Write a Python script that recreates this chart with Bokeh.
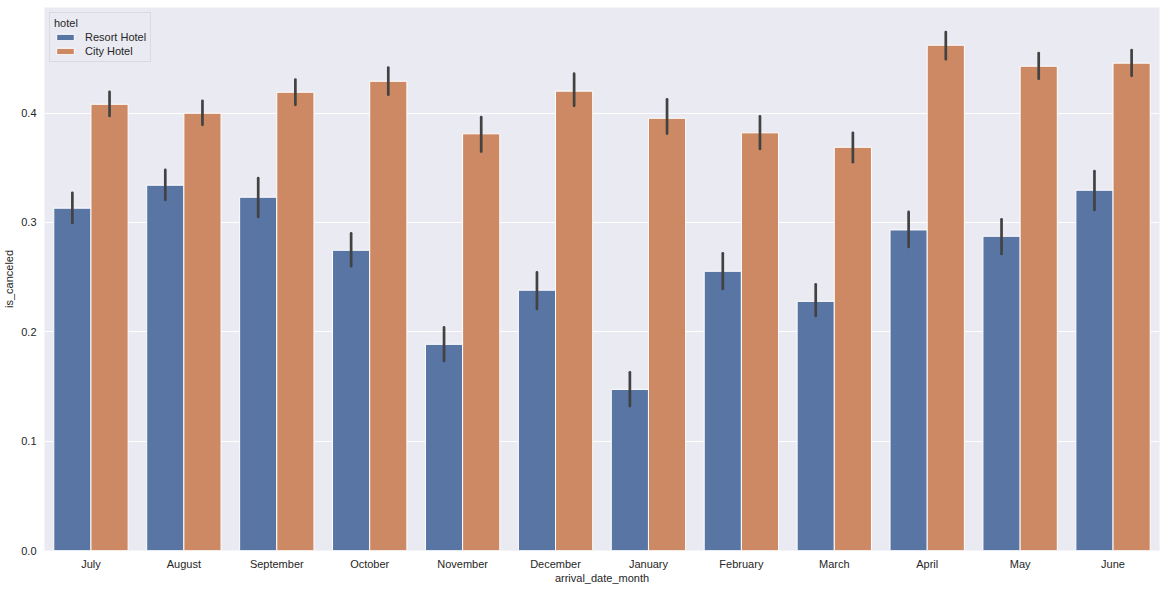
from bokeh.plotting import figure
from bokeh.models import ColumnDataSource, FactorRange, Range1d, FixedTicker, PrintfTickFormatter, Legend, LegendItem
from bokeh.transform import dodge
from bokeh.embed import file_html
from bokeh.resources import INLINE

months = ["July", "August", "September", "October", "November", "December",
          "January", "February", "March", "April", "May", "June"]
hotels = ["Resort Hotel", "City Hotel"]

resort_mean = [0.313, 0.334, 0.323, 0.2745, 0.1885, 0.238, 0.1473, 0.2553, 0.2278, 0.2931, 0.2873, 0.3294]
resort_lo   = [0.2995, 0.3206, 0.305, 0.260, 0.1733, 0.2209, 0.1321, 0.2392, 0.2145, 0.2776, 0.2712, 0.3114]
resort_hi   = [0.327, 0.348, 0.3404, 0.290, 0.204, 0.2543, 0.1629, 0.2717, 0.2434, 0.3096, 0.3028, 0.3468]

city_mean = [0.408, 0.3998, 0.419, 0.429, 0.381, 0.420, 0.3952, 0.3819, 0.3687, 0.462, 0.4428, 0.4456]
city_lo   = [0.3974, 0.3892, 0.4075, 0.4167, 0.3648, 0.4066, 0.3812, 0.3672, 0.355, 0.4492, 0.4313, 0.434]
city_hi   = [0.4194, 0.4112, 0.4306, 0.4416, 0.3962, 0.436, 0.4126, 0.397, 0.3819, 0.474, 0.4547, 0.4575]

y_ticks = [0.0, 0.1, 0.2, 0.3, 0.4]

colors = ["#5975a4", "#cc8963"]
TEXT = "#262626"
FONT = "Liberation Sans"

p = figure(x_range=FactorRange(*months, range_padding=0), y_range=Range1d(0, 0.4965),
           width=1160, height=590, frame_width=1115, frame_height=543,
           output_backend="svg", toolbar_location=None,
           min_border_left=39, min_border_right=6, min_border_top=7, min_border_bottom=40)

p.background_fill_color = "#eaeaf2"
p.border_fill_color = "white"
p.outline_line_color = None
p.xgrid.grid_line_color = None
p.ygrid.grid_line_color = "white"
p.ygrid.grid_line_width = 1

src_r = ColumnDataSource(dict(m=months, mean=resort_mean, lo=resort_lo, hi=resort_hi))
src_c = ColumnDataSource(dict(m=months, mean=city_mean, lo=city_lo, hi=city_hi))

r1 = p.vbar(x=dodge("m", -0.2, range=p.x_range), top="mean", width=0.4, source=src_r,
            fill_color=colors[0], line_color="white", line_width=1)
r2 = p.vbar(x=dodge("m", 0.2, range=p.x_range), top="mean", width=0.4, source=src_c,
            fill_color=colors[1], line_color="white", line_width=1)

for src, off in ((src_r, -0.2), (src_c, 0.2)):
    p.segment(x0=dodge("m", off, range=p.x_range), x1=dodge("m", off, range=p.x_range),
              y0="lo", y1="hi", source=src, line_color="#424242", line_width=2.7, line_cap="round")

p.yaxis.ticker = FixedTicker(ticks=y_ticks)
p.yaxis.formatter = PrintfTickFormatter(format="%.1f")

for ax in (p.xaxis[0], p.yaxis[0]):
    ax.axis_line_color = None
    ax.major_tick_line_color = None
    ax.minor_tick_line_color = None
    ax.major_tick_in = 0
    ax.major_tick_out = 0
    ax.major_label_text_font = FONT
    ax.major_label_text_font_size = "11px"
    ax.major_label_text_color = TEXT
    ax.axis_label_text_font = FONT
    ax.axis_label_text_font_size = "11px"
    ax.axis_label_text_color = TEXT
    ax.axis_label_text_font_style = "normal"

p.xaxis.axis_label = "arrival_date_month"
p.yaxis.axis_label = "is_canceled"
p.xaxis.major_label_standoff = 7
p.xaxis.axis_label_standoff = -1
p.yaxis.major_label_standoff = 8
p.yaxis.axis_label_standoff = 3

legend = Legend(items=[LegendItem(label=hotels[0], renderers=[r1]),
                       LegendItem(label=hotels[1], renderers=[r2])],
                location="top_left", title="hotel")
legend.title_text_font = FONT
legend.title_text_font_size = "11px"
legend.title_text_font_style = "normal"
legend.title_text_color = TEXT
legend.title_standoff = 2
legend.label_text_font = FONT
legend.label_text_font_size = "11px"
legend.label_text_color = TEXT
legend.label_height = 12
legend.glyph_height = 8
legend.glyph_width = 22
legend.label_standoff = 9
legend.spacing = 2
legend.padding = 4
legend.margin = 5
legend.background_fill_color = "#eaeaf2"
legend.background_fill_alpha = 0.8
legend.border_line_color = "#cccccc"
legend.border_line_width = 1
p.add_layout(legend)

open("out.html", "w").write(file_html(p, INLINE))
